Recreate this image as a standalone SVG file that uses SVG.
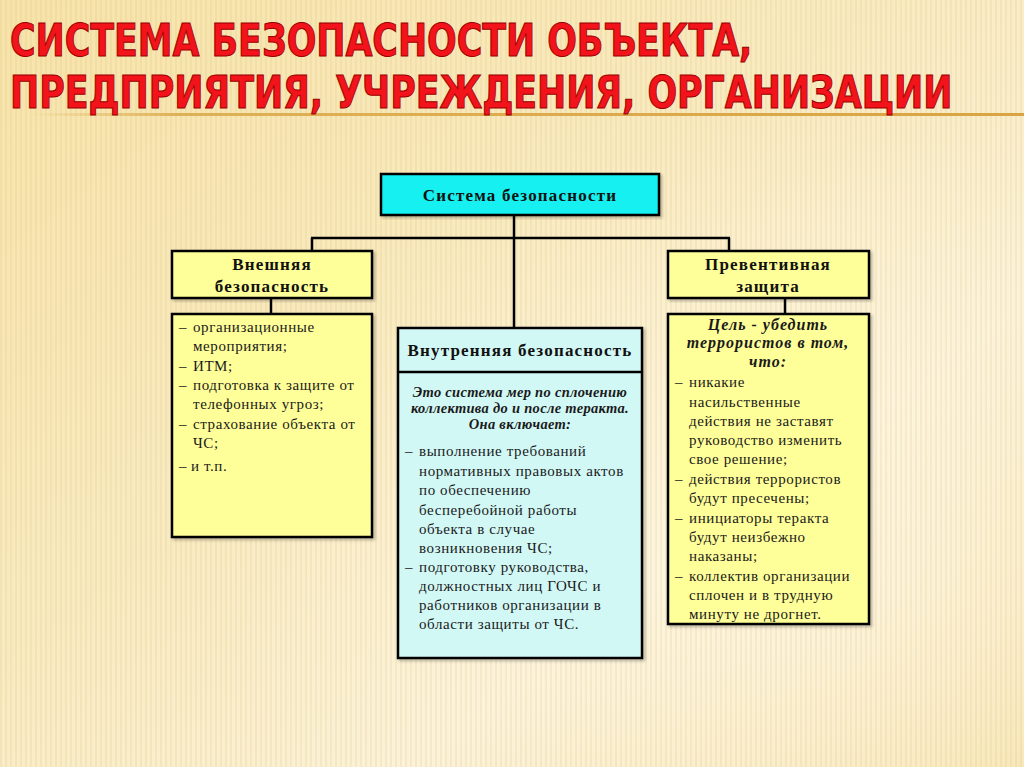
<svg xmlns="http://www.w3.org/2000/svg" width="1024" height="767" viewBox="0 0 1024 767">
<defs>
<linearGradient id="bg" x1="0" y1="0" x2="1" y2="1">
<stop offset="0" stop-color="#F7E3A9"/>
<stop offset="0.45" stop-color="#F9EBC2"/>
<stop offset="0.7" stop-color="#FBF1D6"/>
<stop offset="1" stop-color="#F5DFA4"/>
</linearGradient>
<radialGradient id="glow" cx="0.8" cy="0.75" r="0.6">
<stop offset="0" stop-color="#FFF8E6" stop-opacity="0.7"/>
<stop offset="1" stop-color="#FFF8E6" stop-opacity="0"/>
</radialGradient>
<pattern id="stripes" width="5" height="10" patternUnits="userSpaceOnUse">
<rect width="2" height="10" fill="#D9BD78" opacity="0.18"/>
</pattern>
<linearGradient id="rule" x1="0" y1="0" x2="1" y2="0">
<stop offset="0" stop-color="#D9A441" stop-opacity="0"/>
<stop offset="0.15" stop-color="#D9A441" stop-opacity="0.8"/>
<stop offset="1" stop-color="#D9A441"/>
</linearGradient>
<filter id="sh" x="-5%" y="-5%" width="115%" height="115%">
<feDropShadow dx="2" dy="2" stdDeviation="1.5" flood-color="#000" flood-opacity="0.25"/>
</filter>
</defs>
<style>
.title{font-family:"Liberation Sans Narrow","DejaVu Sans Condensed","Liberation Sans",sans-serif;font-weight:bold;font-size:44px;fill:#F2141A;stroke:#9A0000;stroke-width:1}
.box{stroke:#000;stroke-width:2.5}
.yel{fill:#FFFF99}
.cyan{fill:#14F0F0}
.lcyan{fill:#D2F8F6}
.hd{font-family:"Liberation Serif","Times New Roman",serif;font-weight:bold;font-size:17px;text-anchor:middle;fill:#111;letter-spacing:1.2px}
.tx{font-family:"Liberation Serif","Times New Roman",serif;font-size:15px;fill:#1a1a1a;letter-spacing:0.6px}
.it{font-family:"Liberation Serif","Times New Roman",serif;font-style:italic;font-weight:bold;font-size:14.5px;text-anchor:middle;fill:#1a1a1a;letter-spacing:0.3px}
.it2{font-family:"Liberation Serif","Times New Roman",serif;font-style:italic;font-weight:bold;font-size:16px;text-anchor:middle;fill:#1a1a1a;letter-spacing:1px}
.con{stroke:#000;stroke-width:2.5;fill:none}
</style>
<rect width="1024" height="767" fill="url(#bg)"/>
<rect width="1024" height="767" fill="url(#glow)"/>
<rect width="1024" height="767" fill="url(#stripes)"/>
<rect x="30" y="113" width="994" height="3" fill="url(#rule)"/>

<g id="title">
<text class="title" transform="translate(10,0) scale(0.88,1)"><tspan x="0" y="56">СИСТЕМА БЕЗОПАСНОСТИ ОБЪЕКТА,</tspan><tspan x="0" y="108">ПРЕДПРИЯТИЯ, УЧРЕЖДЕНИЯ, ОРГАНИЗАЦИИ</tspan></text>
</g>

<g id="connectors">
<line class="con" x1="514" y1="215" x2="514" y2="328"/>
<line class="con" x1="311" y1="238" x2="730" y2="238"/>
<line class="con" x1="312" y1="238" x2="312" y2="251"/>
<line class="con" x1="729" y1="238" x2="729" y2="251"/>
<line class="con" x1="271" y1="298" x2="271" y2="314"/>
<line class="con" x1="785" y1="298" x2="785" y2="314"/>
</g>

<g id="node-system">
<rect class="box cyan" x="381" y="174" width="278" height="41" filter="url(#sh)"/>
<text class="hd" x="520" y="201">Система безопасности</text>
</g>

<g id="node-external">
<rect class="box yel" x="172" y="251" width="200" height="47" filter="url(#sh)"/>
<text class="hd" x="272" y="270">Внешняя</text>
<text class="hd" x="272" y="292">безопасность</text>
</g>

<g id="node-external-list">
<rect class="box yel" x="172" y="314" width="200" height="223" filter="url(#sh)"/>
<text class="tx" x="179" y="332">–</text><text class="tx" x="193" y="332">организационные</text>
<text class="tx" x="193" y="351">мероприятия;</text>
<text class="tx" x="179" y="371">–</text><text class="tx" x="193" y="371">ИТМ;</text>
<text class="tx" x="179" y="390">–</text><text class="tx" x="193" y="390">подготовка к защите от</text>
<text class="tx" x="193" y="409">телефонных угроз;</text>
<text class="tx" x="179" y="429">–</text><text class="tx" x="193" y="429">страхование объекта от</text>
<text class="tx" x="193" y="448">ЧС;</text>
<text class="tx" x="179" y="471">–</text><text class="tx" x="191" y="471">и т.п.</text>
</g>

<g id="node-internal">
<rect class="box lcyan" x="398" y="328" width="244" height="330" filter="url(#sh)"/>
<line x1="398" y1="372" x2="642" y2="372" stroke="#000" stroke-width="2.5"/>
<text class="hd" x="520" y="356">Внутренняя безопасность</text>
<text class="it" x="520" y="397">Это система мер по сплочению</text>
<text class="it" x="520" y="413">коллектива до и после теракта.</text>
<text class="it" x="520" y="429">Она включает:</text>
<text class="tx" x="405" y="456">–</text><text class="tx" x="419" y="456">выполнение требований</text>
<text class="tx" x="419" y="476">нормативных правовых актов</text>
<text class="tx" x="419" y="495">по обеспечению</text>
<text class="tx" x="419" y="515">бесперебойной работы</text>
<text class="tx" x="419" y="534">объекта в случае</text>
<text class="tx" x="419" y="553">возникновения ЧС;</text>
<text class="tx" x="405" y="572">–</text><text class="tx" x="419" y="572">подготовку руководства,</text>
<text class="tx" x="419" y="591">должностных лиц ГОЧС и</text>
<text class="tx" x="419" y="610">работников организации в</text>
<text class="tx" x="419" y="629">области защиты от ЧС.</text>
</g>

<g id="node-preventive">
<rect class="box yel" x="668" y="251" width="201" height="47" filter="url(#sh)"/>
<text class="hd" x="768" y="270">Превентивная</text>
<text class="hd" x="768" y="292">защита</text>
</g>

<g id="node-preventive-list">
<rect class="box yel" x="668" y="314" width="201" height="310" filter="url(#sh)"/>
<text class="it2" x="768" y="330">Цель - убедить</text>
<text class="it2" x="768" y="348">террористов в том,</text>
<text class="it2" x="768" y="367">что:</text>
<text class="tx" x="675" y="387">–</text><text class="tx" x="689" y="387">никакие</text>
<text class="tx" x="689" y="407">насильственные</text>
<text class="tx" x="689" y="426">действия не заставят</text>
<text class="tx" x="689" y="445">руководство изменить</text>
<text class="tx" x="689" y="464">свое решение;</text>
<text class="tx" x="675" y="484">–</text><text class="tx" x="689" y="484">действия террористов</text>
<text class="tx" x="689" y="503">будут пресечены;</text>
<text class="tx" x="675" y="523">–</text><text class="tx" x="689" y="523">инициаторы теракта</text>
<text class="tx" x="689" y="542">будут неизбежно</text>
<text class="tx" x="689" y="561">наказаны;</text>
<text class="tx" x="675" y="581">–</text><text class="tx" x="689" y="581">коллектив организации</text>
<text class="tx" x="689" y="600">сплочен и в трудную</text>
<text class="tx" x="689" y="619">минуту не дрогнет.</text>
</g>
</svg>
